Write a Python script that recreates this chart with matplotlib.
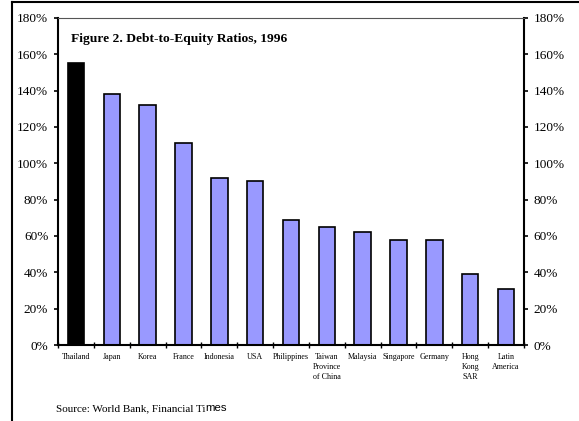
import matplotlib.pyplot as plt
from matplotlib.lines import Line2D
import numpy as np

plt.rcParams['font.family'] = ['Liberation Serif', 'DejaVu Serif']

countries = ['Thailand', 'Japan', 'Korea', 'France', 'Indonesia', 'USA', 'Philippines',
             'Taiwan\nProvince\nof China', 'Malaysia', 'Singapore', 'Germany',
             'Hong\nKong\nSAR', 'Latin\nAmerica']
ratios = [155, 138, 132, 111, 92, 90, 69, 65, 62, 58, 58, 39, 31]
yticks = [0, 20, 40, 60, 80, 100, 120, 140, 160, 180]

fig = plt.figure(figsize=(5.79, 4.21), dpi=100)
ax = fig.add_axes([58 / 579, 1 - 345 / 421, (524 - 58) / 579, (345 - 18) / 421])

x = np.arange(len(countries))
colors = ['black'] + ['#9999ff'] * (len(countries) - 1)
ax.bar(x, ratios, width=0.46, color=colors, edgecolor='black', linewidth=1.2)

ax.set_xlim(-0.5, len(countries) - 0.5)
ax.set_ylim(0, 180)
ax.set_yticks(yticks)
ax.set_yticklabels([f'{v}%' for v in yticks], fontsize=9.5)
ax.tick_params(axis='y', direction='out', length=3, width=1.2, pad=4)
ax.tick_params(axis='y', right=True, labelright=True)

# category ticks sit between bars
ax.set_xticks(np.arange(-0.5, len(countries), 1.0))
ax.set_xticklabels([])
ax.tick_params(axis='x', direction='inout', length=5, width=1)
for i, name in enumerate(countries):
    ax.text(i, -4.5, name, ha='center', va='top', fontsize=5.8, linespacing=1.35)

for side in ['left', 'right', 'bottom']:
    ax.spines[side].set_linewidth(1.5)
ax.spines['top'].set_linewidth(0.8)
ax.spines['top'].set_color('#555555')

ax.text(0.028, 0.955, 'Figure 2. Debt-to-Equity Ratios, 1996', transform=ax.transAxes,
        fontsize=9.7, fontweight='bold', va='top', ha='left')

src = fig.text(56 / 579, 1 - 409 / 421, 'Source: World Bank, Financial Ti', fontsize=8,
               va='center', ha='left')
fig.canvas.draw()
bb = src.get_window_extent(fig.canvas.get_renderer())
fig.text(bb.x1 / fig.bbox.width, 1 - 408 / 421, 'mes', fontsize=8.2, va='center',
         ha='left', family='Liberation Sans')

# outer frame (left and top only)
fig.add_artist(Line2D([12 / 579, 12 / 579], [0, 1 - 2 / 421], color='black', lw=1.5,
                      transform=fig.transFigure))
fig.add_artist(Line2D([12 / 579, 1], [1 - 2 / 421, 1 - 2 / 421], color='black', lw=1.5,
                      transform=fig.transFigure))

fig.savefig('out.png', dpi=100)
